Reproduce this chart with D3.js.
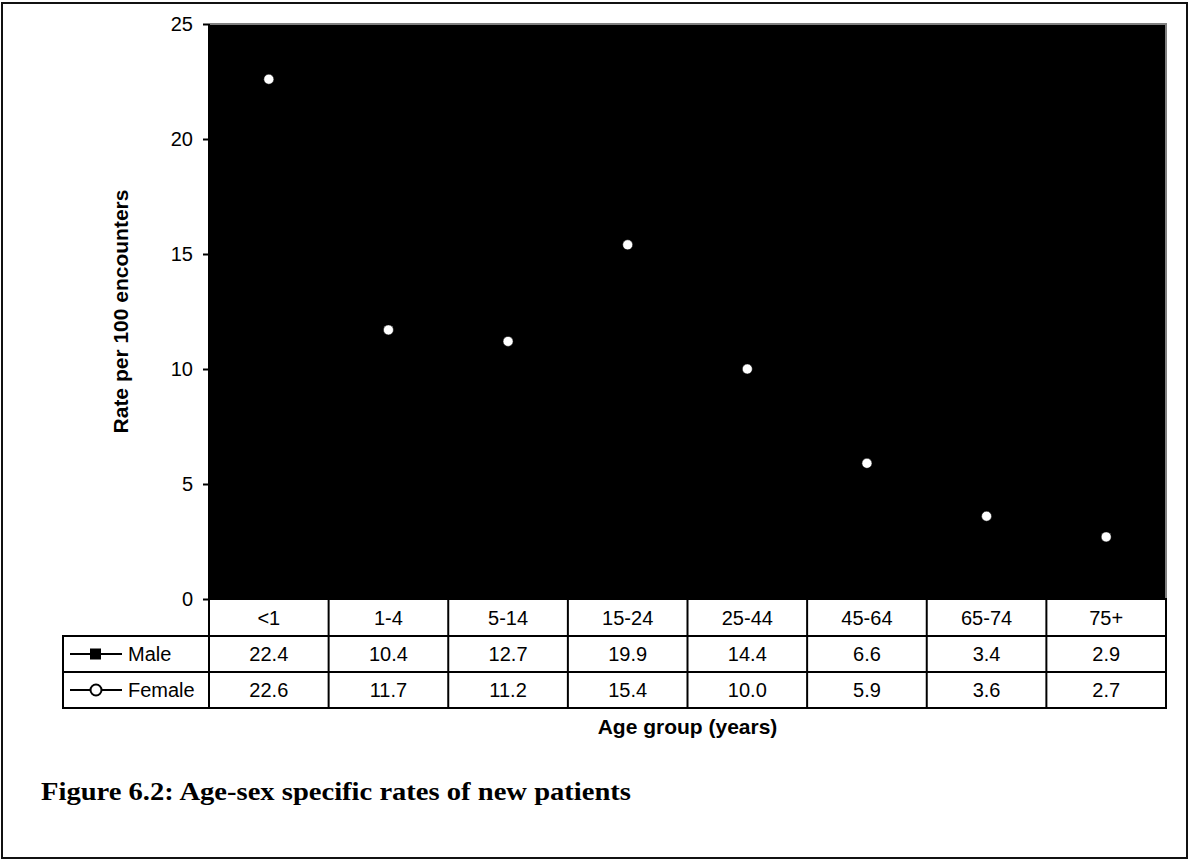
<!DOCTYPE html>
<html><head><meta charset="utf-8">
<script src="https://cdn.jsdelivr.net/npm/d3@7"></script>
<style>body{margin:0;background:#fff}svg{display:block}</style>
</head><body>
<svg id="c" width="1188" height="861"></svg>
<script>
const categories = ["<1","1-4","5-14","15-24","25-44","45-64","65-74","75+"];
const maleValues = [22.4,10.4,12.7,19.9,14.4,6.6,3.4,2.9];
const femaleValues = [22.6,11.7,11.2,15.4,10.0,5.9,3.6,2.7];
const maleLabels = ["22.4","10.4","12.7","19.9","14.4","6.6","3.4","2.9"];
const femaleLabels = ["22.6","11.7","11.2","15.4","10.0","5.9","3.6","2.7"];
const yTicks = [0,5,10,15,20,25];
const seriesNames = ["Male","Female"];

const svg = d3.select("#c");
const font = "Liberation Sans, Arial, sans-serif";
const L = 209, R = 1166, T = 24, B = 599;

// outer frame
svg.append("rect").attr("x",2).attr("y",3).attr("width",1185).attr("height",855)
  .attr("fill","none").attr("stroke","#111").attr("stroke-width",2);

const x = d3.scaleBand().domain(categories).range([L,R]).padding(0);
const y = d3.scaleLinear().domain([0,25]).range([B,T]);

// plot area
svg.append("rect").attr("x",L).attr("y",T).attr("width",R-L).attr("height",B-T).attr("fill","#000");
svg.append("path").attr("d",`M${L},${T}H${R}V${B}`).attr("fill","none").attr("stroke","#808080").attr("stroke-width",2);

// y axis
const ya = svg.append("g").attr("transform",`translate(${L},0)`)
  .call(d3.axisLeft(y).tickValues(yTicks).tickSize(6).tickPadding(10).tickFormat(d3.format("d")));
ya.select(".domain").attr("stroke","#000").attr("stroke-width",2).attr("d",`M0,${T}V${B}`);
ya.selectAll(".tick line").attr("stroke","#000").attr("stroke-width",2);
ya.selectAll("text").attr("font-family",font).attr("font-size",20).attr("fill","#000");

svg.append("text").attr("transform",`translate(120,${(T+B)/2}) rotate(-90)`)
  .attr("text-anchor","middle").attr("dominant-baseline","central")
  .attr("font-family",font).attr("font-weight","bold").attr("font-size",21).text("Rate per 100 encounters");

// series
const cx = d => x(d) + x.bandwidth()/2;
const line = d3.line().x((d,i)=>cx(categories[i])).y(d=>y(d));
svg.append("path").datum(maleValues).attr("d",line).attr("fill","none").attr("stroke","#000").attr("stroke-width",2);
svg.append("path").datum(femaleValues).attr("d",line).attr("fill","none").attr("stroke","#000").attr("stroke-width",2);
svg.selectAll(".m").data(maleValues).join("rect").attr("class","m")
  .attr("x",(d,i)=>cx(categories[i])-4).attr("y",d=>y(d)-4).attr("width",8).attr("height",8).attr("fill","#000");
svg.selectAll(".f").data(femaleValues).join("circle").attr("class","f")
  .attr("cx",(d,i)=>cx(categories[i])).attr("cy",d=>y(d)).attr("r",5).attr("fill","#fff").attr("stroke","#000").attr("stroke-width",0.5);

// data table
const rows = [599,636,672,708];
const LL = 63;
const tg = svg.append("g").attr("stroke","#000").attr("stroke-width",2).attr("fill","none");
tg.append("path").attr("d",`M${L},${rows[0]}H${R}V${rows[3]}H${LL}V${rows[1]}H${R}M${LL},${rows[2]}H${R}`);
categories.forEach((c,i)=>{ tg.append("path").attr("d",`M${x(c)},${rows[0]}V${rows[3]}`); });

const tt = svg.append("g").attr("font-family",font).attr("font-size",20).attr("fill","#000").attr("text-anchor","middle");
categories.forEach((c,i)=>{
  tt.append("text").attr("x",cx(c)).attr("y",(rows[0]+rows[1])/2).attr("dy","0.36em").text(c);
  tt.append("text").attr("x",cx(c)).attr("y",(rows[1]+rows[2])/2).attr("dy","0.36em").text(maleLabels[i]);
  tt.append("text").attr("x",cx(c)).attr("y",(rows[2]+rows[3])/2).attr("dy","0.36em").text(femaleLabels[i]);
});

// legend keys
const ky1 = (rows[1]+rows[2])/2, ky2 = (rows[2]+rows[3])/2;
svg.append("line").attr("x1",70).attr("x2",122).attr("y1",ky1).attr("y2",ky1).attr("stroke","#000").attr("stroke-width",2);
svg.append("rect").attr("x",90).attr("y",ky1-5.5).attr("width",11).attr("height",11).attr("fill","#000");
svg.append("line").attr("x1",70).attr("x2",122).attr("y1",ky2).attr("y2",ky2).attr("stroke","#000").attr("stroke-width",2);
svg.append("circle").attr("cx",96).attr("cy",ky2).attr("r",5.5).attr("fill","#fff").attr("stroke","#000").attr("stroke-width",2);
svg.append("text").attr("x",128).attr("y",ky1).attr("dy","0.36em").attr("font-family",font).attr("font-size",20).text(seriesNames[0]);
svg.append("text").attr("x",128).attr("y",ky2).attr("dy","0.36em").attr("font-family",font).attr("font-size",20).text(seriesNames[1]);

// x axis title
svg.append("text").attr("x",687.5).attr("y",734).attr("text-anchor","middle")
  .attr("font-family",font).attr("font-weight","bold").attr("font-size",21).text("Age group (years)");

// caption
svg.append("text").attr("x",41).attr("y",800)
  .attr("font-family","'Liberation Serif', 'DejaVu Serif', serif").attr("font-weight","bold").attr("font-size",26)
  .attr("textLength",590).attr("lengthAdjust","spacingAndGlyphs")
  .text("Figure 6.2: Age-sex specific rates of new patients");
</script>
</body></html>
